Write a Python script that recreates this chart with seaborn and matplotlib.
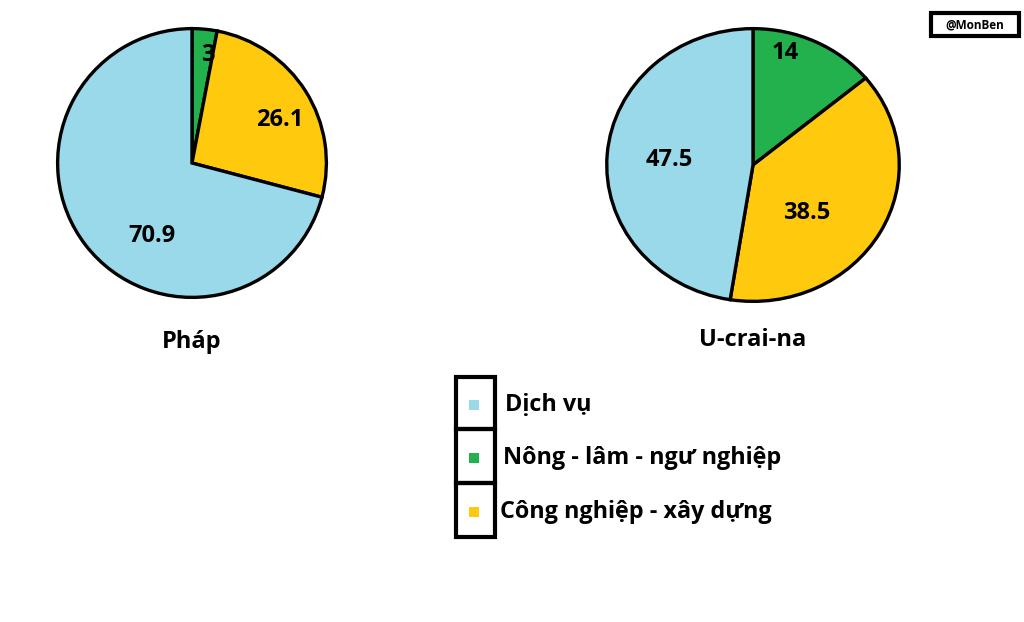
import numpy as np
import matplotlib
matplotlib.use("Agg")
import matplotlib.pyplot as plt
import seaborn as sns
from matplotlib.patches import Rectangle

sns.set_theme(style="white")
plt.rcParams['font.family'] = ['Open Sans', 'DejaVu Sans']

# ── Data ──────────────────────────────────────────────────────
sectors   = ['Nông - lâm - ngư nghiệp', 'Công nghiệp - xây dựng', 'Dịch vụ']
countries = ['Pháp', 'U-crai-na']
phap      = [3, 26.1, 70.9]
ucraina   = [14, 38.5, 47.5]
legend_order = ['Dịch vụ', 'Nông - lâm - ngư nghiệp', 'Công nghiệp - xây dựng']

colors = {'Nông - lâm - ngư nghiệp': '#22b14c',
          'Công nghiệp - xây dựng': '#ffc90e',
          'Dịch vụ': '#99d9ea'}

W, H = 1024, 622
fig = plt.figure(figsize=(W / 100, H / 100), dpi=100)

def px_axes(x0, y0, x1, y1):
    return fig.add_axes([x0 / W, 1 - y1 / H, (x1 - x0) / W, (y1 - y0) / H])

# pie boxes in pixels and hand-placed label offsets (fraction of radius)
pie_boxes = [(56, 27, 328, 299), (605, 27, 901, 303)]
label_pos = [[(0.12, 0.80), (0.65, 0.32), (-0.30, -0.54)],
             [(0.22, 0.82), (0.37, -0.35), (-0.57, 0.04)]]
title_y   = [342, 340]

for vals, name, box, lpos, ty in zip([phap, ucraina], countries, pie_boxes, label_pos, title_y):
    ax = px_axes(*box)
    ax.pie(vals, colors=[colors[s] for s in sectors], startangle=90, counterclock=False,
           wedgeprops=dict(edgecolor='black', linewidth=2.4))
    ax.set_aspect('auto')
    ax.set_xlim(-1.012, 1.012)
    ax.set_ylim(-1.012, 1.012)
    ax.axis('off')
    for v, (lx, ly) in zip(vals, lpos):
        ax.text(lx, ly, f"{v:g}", ha='center', va='center',
                fontsize=17, fontweight='bold', color='black')
    cx = (box[0] + box[2]) / 2
    fig.text(cx / W, 1 - ty / H, name, ha='center', va='center',
             fontsize=17, fontweight='bold', color='black')

# ── Legend & watermark drawn on an overlay in pixel coords ────
ov = fig.add_axes([0, 0, 1, 1])
ov.set_xlim(0, W)
ov.set_ylim(H, 0)
ov.axis('off')

rows = [(377, 429), (429, 483), (483, 537)]
text_x = [505, 503, 500]
for (y0, y1), lab, tx in zip(rows, legend_order, text_x):
    ov.add_patch(Rectangle((456, y0), 39, y1 - y0, fill=False,
                           edgecolor='black', linewidth=3))
    ym = (y0 + y1) / 2 + 2
    ov.scatter([474], [ym], marker='s', s=60, color=colors[lab], linewidths=0)
    ov.text(tx, ym, lab, ha='left', va='center', fontsize=16.8,
            fontweight='bold', color='black')

ov.add_patch(Rectangle((931, 13), 88, 23, fill=False, edgecolor='black', linewidth=3))
ov.text(975, 24.5, '@MonBen', ha='center', va='center', fontsize=8.5,
        fontweight='bold', color='black')

fig.savefig('out.png', dpi=100, facecolor='white')
